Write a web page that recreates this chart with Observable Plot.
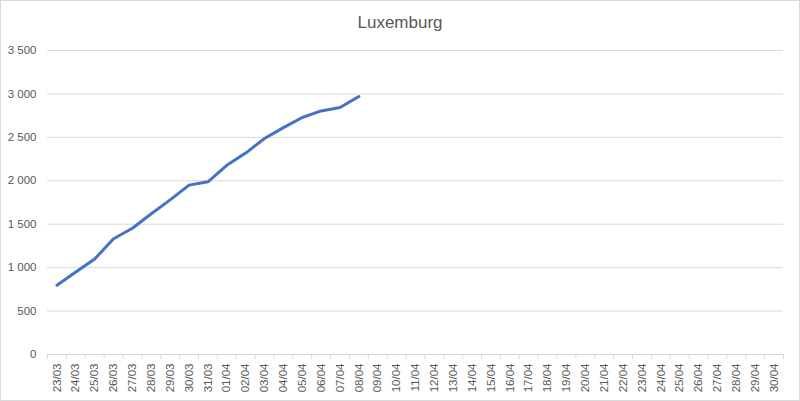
<!DOCTYPE html>
<html>
<head>
<meta charset="utf-8">
<script src="https://cdn.jsdelivr.net/npm/d3@7"></script>
<script src="https://cdn.jsdelivr.net/npm/@observablehq/plot@0.6"></script>
<style>
  html, body { margin: 0; padding: 0; background: #fff; }
  #wrap { position: relative; width: 800px; height: 401px; overflow: hidden; }
  #border { position: absolute; left: 0; top: 0; width: 800px; height: 401px; box-sizing: border-box; border: 1px solid #d9d9d9; pointer-events: none; }
  #title { position: absolute; left: 0; top: 13px; width: 800px; text-align: center; font-family: "Liberation Sans", Arial, sans-serif; font-size: 17px; line-height: 20px; color: #595959; }
  svg { display: block; }
</style>
</head>
<body>
<div id="wrap">
  <div id="chart"></div>
  <div id="title">Luxemburg</div>
  <div id="border"></div>
</div>
<script>
const title = "Luxemburg";
const dates = [
  "23/03","24/03","25/03","26/03","27/03","28/03","29/03","30/03","31/03",
  "01/04","02/04","03/04","04/04","05/04","06/04","07/04","08/04","09/04","10/04",
  "11/04","12/04","13/04","14/04","15/04","16/04","17/04","18/04","19/04","20/04",
  "21/04","22/04","23/04","24/04","25/04","26/04","27/04","28/04","29/04","30/04"
];
const values = [798, 950, 1099, 1333, 1453, 1620, 1780, 1950, 1988, 2178, 2319, 2487, 2612, 2729, 2804, 2843, 2970];
const yTicks = [0, 500, 1000, 1500, 2000, 2500, 3000, 3500];

const data = values.map((v, i) => ({date: dates[i], value: v}));
const locale = d3.formatLocale({decimal: ",", thousands: " ", grouping: [3], currency: ["", ""]});
const fmt = locale.format(",");

const W = 800, H = 401, mL = 47, mR = 17, mT = 50, mB = 47;
const step = (W - mL - mR) / dates.length;
const grey = "#d9d9d9";
const textColor = "#595959";

const chart = Plot.plot({
  width: W, height: H,
  marginLeft: mL, marginRight: mR, marginTop: mT, marginBottom: mB,
  x: {type: "point", domain: dates, padding: 0.5, axis: null, label: null},
  y: {domain: [0, 3500], axis: null, label: null},
  style: {fontFamily: "'Liberation Sans', Arial, sans-serif", fontSize: "11.5px", color: textColor, background: "white", overflow: "visible"},
  marks: [
    Plot.gridY(yTicks.filter(d => d > 0), {stroke: grey, strokeOpacity: 1, strokeWidth: 1}),
    Plot.ruleY([0], {stroke: grey, strokeWidth: 1}),
    Plot.ruleX(dates, {x: d => d, dx: -step / 2, y1: 0, y2: 0, insetBottom: -5, stroke: grey}),
    Plot.ruleX([dates[dates.length - 1]], {x: d => d, dx: step / 2, y1: 0, y2: 0, insetBottom: -5, stroke: grey}),
    Plot.axisY(yTicks, {tickSize: 0, tickPadding: 11, tickFormat: fmt, fill: textColor, label: null}),
    Plot.axisX(dates, {tickSize: 0, tickRotate: -90, tickPadding: 9, fill: textColor, label: null}),
    Plot.line(data, {x: "date", y: "value", stroke: "#4472C4", strokeWidth: 3, strokeLinejoin: "round", strokeLinecap: "round"})
  ]
});
document.getElementById("chart").appendChild(chart);
</script>
</body>
</html>
